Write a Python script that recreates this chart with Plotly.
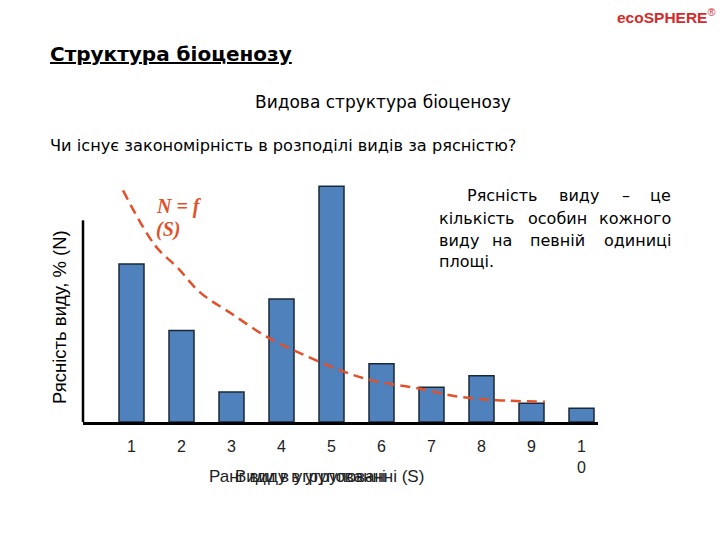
import plotly.graph_objects as go

# Data
ranks = [1, 2, 3, 4, 5, 6, 7, 8, 9, 10]
tick_labels = ["1", "2", "3", "4", "5", "6", "7", "8", "9", "1<br>0"]
abundance = [19.5, 11.3, 3.7, 15.2, 29.1, 7.2, 4.3, 5.7, 2.3, 1.7]
curve_x = [0.83, 1.47, 1.93, 2.37, 2.97, 3.71, 4.37, 5.17, 5.77, 6.77, 7.57, 8.31, 9.27]
curve_y = [28.6, 21.8, 19.0, 16.0, 13.5, 10.5, 8.5, 6.4, 5.2, 4.1, 3.1, 2.7, 2.5]

BODY_FONT = "DejaVu Sans"
RED = "#E2512A"

L, R, T, B = 83, 122, 179, 118
PW, PH = 720 - L - R, 540 - T - B

fig = go.Figure()
fig.add_trace(go.Bar(
    x=ranks, y=abundance, width=0.5,
    marker=dict(color="#4F81BD", line=dict(color="#1B2838", width=1.5)),
    showlegend=False, hoverinfo="skip",
))
fig.add_trace(go.Scatter(
    x=curve_x, y=curve_y, mode="lines", line_shape="spline",
    line=dict(color=RED, width=2.5, dash="10px,6px"),
    showlegend=False, hoverinfo="skip",
))

fig.update_layout(
    width=720, height=540,
    margin=dict(l=L, r=R, t=T, b=B),
    plot_bgcolor="white", paper_bgcolor="white",
    hovermode=False,
    xaxis=dict(range=[0.03, 10.33], tickvals=ranks, ticktext=tick_labels,
               showgrid=False, zeroline=False, showline=True, linecolor="black",
               linewidth=2.5, ticks="", tickfont=dict(family="Liberation Sans", size=16, color="#222"),
               ticklabelstandoff=8),
    yaxis=dict(range=[0, 30], showgrid=False, zeroline=False, showline=False,
               showticklabels=False, ticks=""),
)

# y axis line (shorter than plot area)
fig.add_shape(type="line", xref="paper", yref="y", x0=0, x1=0, y0=0, y1=24.9,
              line=dict(color="black", width=2.5))

ann = []
def txt(text, x, y, size, xanchor="left", yanchor="middle", color="black", family=BODY_FONT, angle=0):
    ann.append(dict(text=text, x=(x - L) / PW, y=(540 - B - y) / PH, xref="paper", yref="paper",
                    xanchor=xanchor, yanchor=yanchor, showarrow=False, textangle=angle,
                    font=dict(family=family, size=size, color=color)))

txt("<b>ecoSPHERE</b><sup>®</sup>", 717, 16, 15.5, xanchor="right", color="#D42A2A", family="Liberation Sans")
txt("<b><u>Структура біоценозу</u></b>", 48, 54, 20)
txt("Видова структура біоценозу", 383, 102, 17, xanchor="center")
txt("Чи існує закономірність в розподілі видів за рясністю?", 48, 145, 16.2)

# justified definition text
words = [
    ("Рясність", 465, 195, "left"), ("виду", 557, 195, "left"), ("–", 626, 195, "center"), ("це", 673, 195, "right"),
    ("кількість", 437, 218, "left"), ("особин", 526, 218, "left"), ("кожного", 673, 218, "right"),
    ("виду", 437, 240, "left"), ("на", 490, 240, "left"), ("певній", 528, 240, "left"), ("одиниці", 673, 240, "right"),
    ("площі.", 437, 261, "left"),
]
for w, x, y, a in words:
    txt(w, x, y, 16, xanchor=a)

txt("<b><i>N = f</i></b>", 154, 206, 20, family="Liberation Serif", color=RED)
txt("<b><i>(S)</i></b>", 154, 229, 20, family="Liberation Serif", color=RED)

txt("Рясність виду, % (N)", 59, 317, 18.5, xanchor="center", angle=-90, family="Liberation Sans")
txt("Ранг виду в угрупованні (S)", 207, 476, 17, family="Liberation Sans", color="#222")
txt("Види в угрупованні", 233, 476, 17, family="Liberation Sans", color="#222")

fig.update_layout(annotations=ann)
fig.write_html("out.html", config={"displayModeBar": False})
